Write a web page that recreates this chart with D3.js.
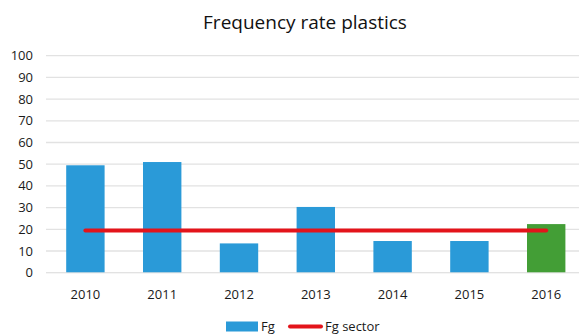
<!DOCTYPE html>
<html>
<head>
<meta charset="utf-8">
<script src="https://cdn.jsdelivr.net/npm/d3@7/dist/d3.min.js"></script>
<style>
  body { margin: 0; background: #fff; }
  svg { display: block; font-family: "Open Sans", "Noto Sans", sans-serif; }
</style>
</head>
<body>
<svg id="chart" width="579" height="334"></svg>
<script>
const years = ["2010", "2011", "2012", "2013", "2014", "2015", "2016"];
const fg = [49.5, 51, 13.5, 30.3, 14.6, 14.6, 22.4];
const fgSector = [19.4, 19.4, 19.4, 19.4, 19.4, 19.4, 19.4];
const yTicks = [0, 10, 20, 30, 40, 50, 60, 70, 80, 90, 100];
const title = "Frequency rate plastics";

const svg = d3.select("#chart");
const x = d3.scaleBand().domain(years).range([47, 584.6]).paddingInner(0.5).paddingOuter(0.25);
const y = d3.scaleLinear().domain([0, 100]).range([272.7, 55.7]);

// gridlines
svg.append("g").selectAll("line").data(yTicks).join("line")
  .attr("x1", 46).attr("x2", 579)
  .attr("y1", d => y(d)).attr("y2", d => y(d))
  .attr("stroke", "#e2e2e2").attr("stroke-width", 1.3);

// y tick labels
svg.append("g").selectAll("text").data(yTicks).join("text")
  .attr("x", 33).attr("y", d => y(d) + 4.5)
  .attr("text-anchor", "end").attr("font-size", 13).attr("fill", "#1a1a1a")
  .text(d => d);

// bars
svg.append("g").selectAll("rect").data(fg).join("rect")
  .attr("x", (d, i) => x(years[i]))
  .attr("width", x.bandwidth())
  .attr("y", d => y(d))
  .attr("height", d => y(0) - y(d))
  .attr("fill", (d, i) => i === years.length - 1 ? "#439e36" : "#2a9ad8");

// baseline
svg.append("line").attr("x1", 46).attr("x2", 579).attr("y1", y(0)).attr("y2", y(0))
  .attr("stroke", "#e2e2e2").attr("stroke-opacity", 0.6).attr("stroke-width", 1.3);

// sector line
const line = d3.line().x((d, i) => x(years[i]) + x.bandwidth() / 2).y(d => y(d));
svg.append("path").datum(fgSector).attr("d", line)
  .attr("fill", "none").attr("stroke", "#e3141b").attr("stroke-width", 4).attr("stroke-linecap", "round");

// x labels
svg.append("g").selectAll("text").data(years).join("text")
  .attr("x", d => x(d) + x.bandwidth() / 2).attr("y", 299)
  .attr("text-anchor", "middle").attr("font-size", 13).attr("fill", "#1a1a1a")
  .text(d => d);

// title
svg.append("text").attr("x", 305).attr("y", 29).attr("text-anchor", "middle")
  .attr("font-size", 19).attr("fill", "#111").text(title);

// legend
const lg = svg.append("g");
lg.append("rect").attr("x", 226).attr("y", 321.5).attr("width", 32).attr("height", 10).attr("fill", "#2a9ad8");
lg.append("text").attr("x", 261).attr("y", 331).attr("font-size", 13).attr("fill", "#1a1a1a").text("Fg");
lg.append("line").attr("x1", 290).attr("x2", 321).attr("y1", 326.5).attr("y2", 326.5)
  .attr("stroke", "#e3141b").attr("stroke-width", 4).attr("stroke-linecap", "round");
lg.append("text").attr("x", 325).attr("y", 331).attr("font-size", 13).attr("fill", "#1a1a1a").text("Fg sector");
</script>
</body>
</html>
